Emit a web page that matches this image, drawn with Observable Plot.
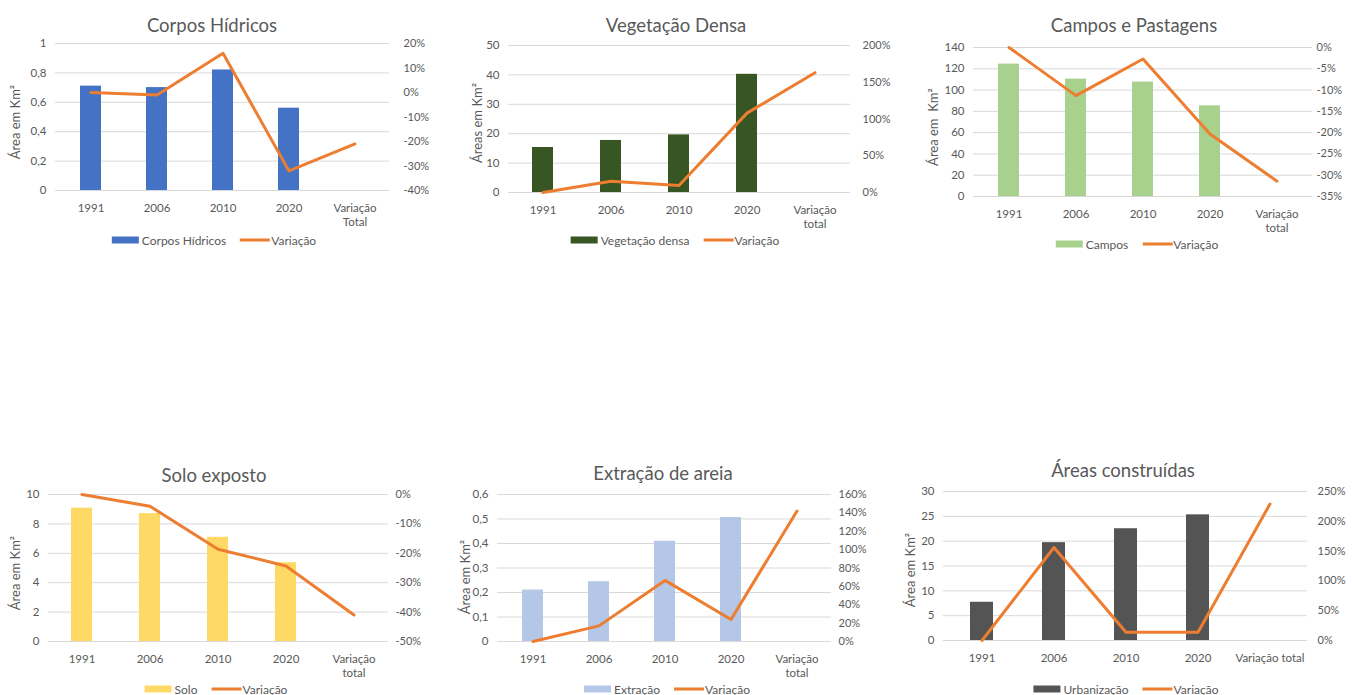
<!DOCTYPE html>
<html><head><meta charset="utf-8">
<script src="https://cdn.jsdelivr.net/npm/d3@7"></script>
<script src="https://cdn.jsdelivr.net/npm/@observablehq/plot@0.6"></script>
<style>
body{margin:0;background:#fff;}
#root{position:relative;width:1352px;height:695px;overflow:hidden;font-family:Lato,sans-serif;color:#595959;}
.title{position:absolute;transform:translate(-50%,-50%);font-size:18.5px;white-space:nowrap;}
.ylab{position:absolute;transform:translate(-50%,-50%) rotate(-90deg);font-size:13px;white-space:pre;}
.legend{position:absolute;transform:translate(-50%,-50%);display:flex;align-items:center;font-size:12px;white-space:nowrap;}
.plot{position:absolute;}
</style></head>
<body><div id="root"></div>
<script>
// ---- data ----
const years = ["1991", "2006", "2010", "2020"];
const totalLabels = ["Variação\nTotal", "Variação\ntotal", "Variação\ntotal", "Variação\ntotal", "Variação\ntotal", "Variação total"];
const titles = ["Corpos Hídricos", "Vegetação Densa", "Campos e Pastagens", "Solo exposto", "Extração de areia", "Áreas construídas"];
const seriesNames = ["Corpos Hídricos", "Vegetação densa", "Campos", "Solo", "Extração", "Urbanização"];
const lineName = "Variação";
const yLabels = ["Área em Km²", "Áreas em Km²", "Área em  Km²", "Área em Km²", "Área em Km²", "Área em Km²"];
const barColors = ["#4472C4", "#375623", "#A9D18E", "#FFD966", "#B4C7E7", "#545454"];
const lineColor = "#ED7D31";

const corposArea = [0.71, 0.70, 0.82, 0.56];
const vegetacaoArea = [15.3, 17.7, 19.6, 40.2];
const camposArea = [124.4, 110.3, 107.5, 85.2];
const soloArea = [9.07, 8.7, 7.09, 5.36];
const extracaoArea = [0.21, 0.244, 0.409, 0.506];
const urbanArea = [7.7, 19.7, 22.5, 25.3];

const corposVar = [0, -1, 16, -32, -21];
const vegetacaoVar = [0, 15.3, 9.5, 108, 163];
const camposVar = [0, -11.3, -2.7, -20.3, -31.4];
const soloVar = [0, -4.0, -18.6, -24.3, -41];
const extracaoVar = [0, 17, 66.5, 24, 142];
const urbanVar = [0, 156, 14, 14, 229];

const corposLeftTicks = [0, 0.2, 0.4, 0.6, 0.8, 1];
const vegetacaoLeftTicks = [0, 10, 20, 30, 40, 50];
const camposLeftTicks = [0, 20, 40, 60, 80, 100, 120, 140];
const soloLeftTicks = [0, 2, 4, 6, 8, 10];
const extracaoLeftTicks = [0, 0.1, 0.2, 0.3, 0.4, 0.5, 0.6];
const urbanLeftTicks = [0, 5, 10, 15, 20, 25, 30];

const corposRightTicks = [-40, -30, -20, -10, 0, 10, 20];
const vegetacaoRightTicks = [0, 50, 100, 150, 200];
const camposRightTicks = [-35, -30, -25, -20, -15, -10, -5, 0];
const soloRightTicks = [-50, -40, -30, -20, -10, 0];
const extracaoRightTicks = [0, 20, 40, 60, 80, 100, 120, 140, 160];
const urbanRightTicks = [0, 50, 100, 150, 200, 250];

// ---- layout ----
const layouts = [
  {left:0,   top:0,   width:450, height:260, mL:55, mR:61, mT:43, mB:70, rPad:14, title:[212,25],  ylab:[15,122],  legend:[214,240]},
  {left:450, top:0,   width:450, height:260, mL:58, mR:50, mT:45, mB:68, rPad:12, title:[676,25],  ylab:[477,123], legend:[675,240]},
  {left:900, top:0,   width:452, height:260, mL:73, mR:40, mT:47, mB:64, rPad:4,  title:[1134,25], ylab:[933,127], legend:[1137,244]},
  {left:0,   top:450, width:450, height:245, mL:48, mR:62, mT:44, mB:54, rPad:7,  title:[214,475], ylab:[15,573],  legend:[216,689]},
  {left:450, top:450, width:450, height:245, mL:47, mR:69, mT:44, mB:54, rPad:7,  title:[663,473], ylab:[465,577], legend:[667,689]},
  {left:900, top:450, width:452, height:245, mL:43, mR:45, mT:41, mB:55, rPad:10, title:[1123,470],ylab:[910,570], legend:[1126,689]}
];

const areas = [corposArea, vegetacaoArea, camposArea, soloArea, extracaoArea, urbanArea];
const variations = [corposVar, vegetacaoVar, camposVar, soloVar, extracaoVar, urbanVar];
const leftTicks = [corposLeftTicks, vegetacaoLeftTicks, camposLeftTicks, soloLeftTicks, extracaoLeftTicks, urbanLeftTicks];
const rightTicks = [corposRightTicks, vegetacaoRightTicks, camposRightTicks, soloRightTicks, extracaoRightTicks, urbanRightTicks];

const root = document.getElementById("root");
const fmtLeft = d => String(+(+d).toFixed(3)).replace(".", ",");

titles.forEach((title, k) => {
  const L = layouts[k];
  const cats = [...years, totalLabels[k]];
  const lt = leftTicks[k], rt = rightTicks[k];
  const lMin = lt[0], lMax = lt[lt.length - 1];
  const rMin = rt[0], rMax = rt[rt.length - 1];
  const toLeft = p => lMin + (p - rMin) / (rMax - rMin) * (lMax - lMin);
  const toPct = v => rMin + (v - lMin) / (lMax - lMin) * (rMax - rMin);
  const bars = areas[k].map((v, i) => ({cat: cats[i], v}));
  const line = variations[k].map((p, i) => ({cat: cats[i], v: toLeft(p)}));

  const chart = Plot.plot({
    width: L.width, height: L.height,
    marginLeft: L.mL, marginRight: L.mR, marginTop: L.mT, marginBottom: L.mB,
    style: {fontFamily: "Lato, sans-serif", fontSize: "11px", color: "#595959", background: "transparent", overflow: "visible"},
    x: {type: "band", domain: cats, paddingInner: 0.685, paddingOuter: 0.3425},
    y: {domain: [lMin, lMax]},
    marks: [
      Plot.gridY(lt, {stroke: "#d9d9d9", strokeOpacity: 1}),
      Plot.axisY(lt, {anchor: "left", tickSize: 0, tickPadding: 9, tickFormat: fmtLeft, label: null, fontSize: 11.5}),
      Plot.axisY(rt.map(toLeft), {anchor: "right", tickSize: 0, tickPadding: L.rPad, label: null, fontSize: 11,
        tickFormat: v => Math.round(toPct(v)) + "%"}),
      Plot.axisX({tickSize: 0, tickPadding: 11, label: null, fontSize: 11.5, lineHeight: 1.25, tickFormat: d => d}),
      Plot.barY(bars, {x: "cat", y: "v", fill: barColors[k]}),
      Plot.line(line, {x: "cat", y: "v", stroke: lineColor, strokeWidth: 3, strokeLinejoin: "round", strokeLinecap: "round"})
    ]
  });
  chart.classList.add("plot");
  chart.style.left = L.left + "px";
  chart.style.top = L.top + "px";
  root.appendChild(chart);

  const t = document.createElement("div");
  t.className = "title"; t.textContent = title;
  t.style.left = L.title[0] + "px"; t.style.top = L.title[1] + "px";
  root.appendChild(t);

  const yl = document.createElement("div");
  yl.className = "ylab"; yl.textContent = yLabels[k];
  yl.style.left = L.ylab[0] + "px"; yl.style.top = L.ylab[1] + "px";
  root.appendChild(yl);

  const lg = document.createElement("div");
  lg.className = "legend";
  lg.style.left = L.legend[0] + "px"; lg.style.top = L.legend[1] + "px";
  lg.innerHTML = `<span style="display:inline-block;width:27px;height:7px;background:${barColors[k]}"></span>` +
    `<span style="margin-left:3px">${seriesNames[k]}</span>` +
    `<span style="display:inline-block;width:30px;height:3px;background:${lineColor};margin-left:14px"></span>` +
    `<span style="margin-left:1px">${lineName}</span>`;
  root.appendChild(lg);
});
</script>
</body></html>
